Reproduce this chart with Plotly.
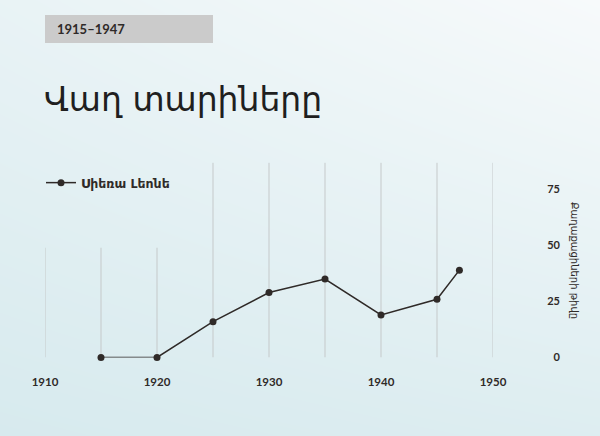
import plotly.graph_objects as go

# data
years = [1915, 1920, 1925, 1930, 1935, 1940, 1945, 1947]
counts = [0, 0, 16, 29, 35, 19, 26, 39]
grid_years = [1910, 1915, 1920, 1925, 1930, 1935, 1940, 1945, 1950]
x_ticks = [1910, 1920, 1930, 1940, 1950]
y_ticks = [0, 25, 50, 75]

series_name = "Սիեռա Լեոնե"
title_text = "Վաղ տարիները"
period_text = "1915–1947"
y_title = "Քաղաքացիների թիվը"

W, H = 600, 436
ink = "#2f2a28"
arm_font = "DejaVu Sans, Noto Sans, sans-serif"
num_font = "Lato, Noto Sans, sans-serif"

fig = go.Figure()

# soft background wash
fig.add_trace(go.Heatmap(
    z=[[0.0, 0.2], [0.55, 1.0]], x=[0, 1], y=[0, 1],
    colorscale=[[0, "#d7eaee"], [1, "#f7fafb"]],
    zsmooth="best", showscale=False, hoverinfo="skip",
    xaxis="x", yaxis="y",
))

fig.add_trace(go.Scatter(
    x=years, y=counts, name=series_name,
    mode="lines+markers",
    line={"color": ink, "width": 1.5},
    marker={"color": ink, "size": 7},
    cliponaxis=False,
    xaxis="x2", yaxis="y2",
))

shapes = []
for yr in grid_years:
    top = 49 if yr <= 1920 else 87
    shapes.append(dict(type="line", xref="x2", yref="y2", x0=yr, x1=yr, y0=0, y1=top,
                       line={"color": "#c5c9ca", "width": 1}, layer="below"))
shapes.append(dict(type="rect", xref="paper", yref="paper",
                   x0=45 / W, x1=213 / W, y0=1 - 43 / H, y1=1 - 15 / H,
                   fillcolor="#cbcbcb", line={"width": 0}, layer="above"))

fig.update_layout(
    width=W, height=H,
    margin={"l": 0, "r": 0, "t": 0, "b": 0, "pad": 0, "autoexpand": False},
    paper_bgcolor="#eaf3f5",
    plot_bgcolor="rgba(0,0,0,0)",
    showlegend=True,
    legend={"x": 41 / W, "y": 1 - 183 / H, "xanchor": "left", "yanchor": "middle",
            "bgcolor": "rgba(0,0,0,0)",
            "font": {"family": arm_font, "size": 12.5, "color": ink, "weight": "bold"}},
    xaxis={"domain": [0, 1], "range": [0, 1], "visible": False, "fixedrange": True,
           "automargin": False},
    yaxis={"domain": [0, 1], "range": [0, 1], "visible": False, "fixedrange": True,
           "automargin": False},
    xaxis2={"domain": [45 / W, 493 / W], "range": [1910, 1950], "anchor": "y2",
            "automargin": False,
            "tickvals": x_ticks, "showgrid": False, "zeroline": False, "showline": False,
            "ticks": "outside", "ticklen": 14, "tickcolor": "rgba(0,0,0,0)",
            "tickfont": {"family": num_font, "size": 11.5, "color": ink, "weight": "bold"}},
    yaxis2={"domain": [1 - 357.5 / H, 1 - 162.6 / H], "range": [0, 87],
            "anchor": "free", "position": 560 / W, "side": "left", "automargin": False,
            "tickvals": y_ticks, "showgrid": False, "zeroline": False, "showline": False,
            "ticks": "",
            "tickfont": {"family": num_font, "size": 11, "color": ink, "weight": "bold"}},
    shapes=shapes,
    annotations=[
        dict(text=period_text, xref="paper", yref="paper", x=55 / W, y=1 - 29 / H,
             xanchor="left", yanchor="middle", showarrow=False,
             font={"family": num_font, "size": 13, "color": ink, "weight": "bold"}),
        dict(text=title_text, xref="paper", yref="paper", x=42 / W, y=1 - 99 / H,
             xanchor="left", yanchor="middle", showarrow=False,
             font={"family": arm_font, "size": 33, "color": "#1f1f1f"}),
        dict(text=y_title, xref="paper", yref="paper", x=575 / W, y=1 - 260 / H,
             xanchor="center", yanchor="middle", showarrow=False, textangle=90,
             font={"family": arm_font, "size": 10, "color": ink}),
    ],
)

# drop the browser's default page margin so the figure sits at the window corner
fig.write_html("out.html", config={"displayModeBar": False},
               post_script="document.body.style.margin='0';")
